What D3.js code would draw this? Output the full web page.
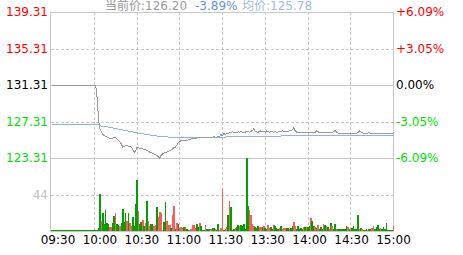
<!DOCTYPE html>
<html><head><meta charset="utf-8">
<script src="https://cdn.jsdelivr.net/npm/d3@7/dist/d3.min.js"></script>
<style>html,body{margin:0;padding:0;background:#fff;}svg{display:block;}</style>
</head><body>
<svg id="c" width="463" height="255"></svg>
<script>
const prevClose = 131.31;
const timeLabels = ["09:30","10:00","10:30","11:00","11:30","13:30","14:00","14:30","15:00"];
const priceTicks = [139.31,135.31,131.31,127.31,123.31];
const pctLabels = ["+6.09%","+3.05%","0.00%","-3.05%","-6.09%"];
const volTick = 44;
const volMax = 88;
const header = {cur:"当前价:126.20", chg:"-3.89%", avg:"均价:125.78"};

const price = [
131.31,131.31,131.31,131.31,131.31,131.31,131.31,131.31,131.31,131.31,
131.31,131.31,131.31,131.31,131.31,131.31,131.31,131.31,131.31,131.31,
131.31,131.31,131.31,131.31,131.31,131.31,131.31,131.31,131.31,131.31,
131.31,131.31,130.00,127.60,126.55,126.20,125.95,125.83,125.75,125.65,
125.60,125.47,125.50,125.56,125.65,125.60,125.47,125.30,125.10,124.90,
124.55,124.62,124.70,124.73,124.65,124.60,124.55,124.30,124.00,124.10,
124.55,124.50,124.40,124.37,124.37,124.30,124.25,124.19,124.10,124.00,
123.95,123.85,123.80,123.70,123.64,123.50,123.35,123.70,123.82,123.90,
124.00,124.00,124.10,124.19,124.25,124.37,124.50,124.55,124.80,125.10,
125.15,125.28,125.25,125.28,125.30,125.28,125.35,125.40,125.45,125.47,
125.50,125.47,125.55,125.60,125.65,125.60,125.65,125.62,125.65,125.60,
125.65,125.65,125.60,125.65,125.70,125.65,125.65,125.72,125.75,125.95,
125.80,126.05,125.90,126.10,126.00,126.19,126.20,126.22,126.20,126.18,
126.20,126.22,126.20,126.25,126.20,126.18,126.20,126.30,126.22,126.20,
126.25,126.40,126.56,126.30,126.22,126.20,126.25,126.35,126.22,126.30,
126.20,126.35,126.22,126.20,126.30,126.22,126.20,126.25,126.20,126.22,
126.30,126.25,126.35,126.25,126.30,126.22,126.25,126.35,126.37,126.45,
126.67,126.35,126.20,126.15,126.13,126.15,126.13,126.13,126.15,126.13,
126.13,126.15,126.13,126.13,126.15,126.13,126.35,126.25,126.15,126.13,
126.10,126.13,126.20,126.13,126.10,126.13,126.13,126.15,126.25,126.40,
126.20,126.10,126.05,126.00,126.02,126.00,126.00,126.02,126.00,126.00,
126.02,126.00,126.02,126.00,126.05,126.15,126.33,126.25,126.15,126.08,
126.08,126.10,126.08,126.15,126.08,126.05,126.08,126.02,126.00,126.00,
126.02,126.00,126.00,126.02,126.00,126.00,126.02,126.00,126.00,126.02,
126.20];

const avgPrice = [
127.00,127.00,127.00,127.00,127.00,127.00,127.00,127.00,127.00,127.00,
127.00,127.00,127.00,127.00,127.00,127.00,127.00,127.00,127.00,127.00,
127.00,127.00,127.00,127.00,127.00,127.00,127.00,127.00,127.00,127.00,
127.00,127.00,127.00,127.00,126.90,126.85,126.84,126.82,126.80,126.78,
126.75,126.72,126.70,126.66,126.62,126.59,126.56,126.53,126.50,126.47,
126.44,126.41,126.38,126.35,126.32,126.29,126.25,126.22,126.19,126.16,
126.13,126.10,126.07,126.05,126.02,125.99,125.97,125.94,125.91,125.89,
125.86,125.84,125.81,125.79,125.77,125.74,125.72,125.71,125.70,125.69,
125.68,125.67,125.66,125.65,125.64,125.63,125.62,125.62,125.62,125.62,
125.62,125.62,125.62,125.62,125.62,125.62,125.62,125.62,125.62,125.62,
125.62,125.62,125.62,125.62,125.62,125.62,125.62,125.62,125.62,125.62,
125.62,125.62,125.62,125.62,125.62,125.62,125.62,125.62,125.62,125.62,
125.62,125.62,125.62,125.70,125.70,125.70,125.70,125.70,125.70,125.70,
125.70,125.70,125.70,125.70,125.70,125.70,125.70,125.70,125.70,125.70,
125.70,125.70,125.70,125.70,125.70,125.70,125.70,125.70,125.70,125.70,
125.70,125.70,125.70,125.70,125.70,125.70,125.70,125.70,125.70,125.70,
125.70,125.78,125.78,125.78,125.78,125.78,125.78,125.78,125.78,125.78,
125.78,125.78,125.78,125.78,125.78,125.78,125.78,125.78,125.78,125.78,
125.78,125.78,125.78,125.78,125.78,125.78,125.78,125.78,125.78,125.78,
125.78,125.78,125.78,125.78,125.78,125.78,125.78,125.78,125.78,125.78,
125.78,125.78,125.78,125.78,125.78,125.78,125.78,125.78,125.78,125.78,
125.78,125.78,125.78,125.78,125.78,125.78,125.78,125.78,125.78,125.78,
125.78,125.78,125.78,125.78,125.78,125.78,125.78,125.78,125.78,125.78,
125.78,125.78,125.78,125.78,125.78,125.78,125.78,125.78,125.78,125.78,
125.78];

const volume = [
0,0,0,0,0,0,0,0,0,0,
0,0,0,0,0,0,0,0,0,0,
0,0,0,0,0,0,0,0,0,0,
0,0,0,3.6,44.6,12.4,21.7,8.4,25.7,9.6,
8.4,4.8,4.8,9.6,18.1,21.7,8.4,7.6,5.6,9.6,
26.9,10.8,21.7,12.4,21.7,9.6,5.6,17.3,5.6,32.5,
61.8,24.5,8.4,10.8,13.7,5.6,9.6,36.5,12.4,5.6,
8.4,8.4,5.6,7.6,28.5,17.3,22.9,21.7,1.6,10.8,
35,12.4,7.6,7.6,3.6,19.3,29.7,2.8,9.6,8.4,
3.6,4.8,3.6,4.8,4.8,2.8,1.6,1.6,2.8,7.6,
7.6,3.6,8.4,4.4,9.6,5.6,1.6,1.6,7.6,2.8,
2.8,2.8,2.8,3.6,3.6,2.8,1.6,8.4,1.6,3.6,
51,1.6,2.8,4.8,19.3,35.8,29.3,1.6,2.4,3.6,
4.4,7.6,5.6,7.6,5.6,8.4,2.8,88,30.5,25.7,
19.7,8.4,6.4,4.8,3.6,5.6,4.4,4.4,4.8,6.4,
3.6,2.4,7.6,3.6,4.8,2.8,7.6,5.6,3.6,2.8,
3.6,6.4,2.8,3.6,3.6,3.6,3.6,2.8,3.6,5.6,
10.8,5.6,2.8,6.4,2.8,3.6,2.8,4.4,4.4,4.8,
4.8,5.6,16,12.4,5.6,4.4,3.6,7.6,2.8,4.4,
2.8,8.4,6.8,5.6,4.4,2.8,9.6,6.0,2.8,8.4,
2.8,2.8,2.4,2.4,2.4,2.4,2.8,6.4,4.4,2.8,
2.4,3.6,5.6,2.4,2.8,18.9,2.4,3.6,2.8,0.4,
0.4,2.8,1.6,2.8,2.8,3.6,6.4,2.4,4.4,7.2,
2.4,3.6,2.4,4.8,2.8,9.2,1.6,0.4,0.4,0.4,
5.6];

const volUp = [
0,0,0,0,0,0,0,0,0,0,
0,0,0,0,0,0,0,0,0,0,
0,0,0,0,0,0,0,0,0,0,
0,0,0,0,0,1,0,0,0,0,
0,1,1,0,0,1,0,0,1,0,
0,0,0,1,0,1,1,0,0,0,
0,1,0,0,1,0,1,0,1,1,
0,0,1,1,0,1,1,1,1,0,
0,1,1,1,0,1,1,0,1,0,
1,1,1,0,1,0,0,1,1,1,
1,1,0,0,1,0,0,0,1,0,
0,0,1,0,0,1,0,0,1,1,
1,0,1,1,0,1,0,0,0,1,
0,0,1,0,0,0,0,0,0,1,
1,1,1,0,0,0,1,1,0,1,
0,0,1,1,0,0,1,0,0,0,
1,0,1,1,1,0,0,1,0,0,
1,1,0,0,0,0,0,1,0,1,
0,0,1,0,0,1,0,1,0,0,
0,1,0,1,0,1,0,1,0,0,
1,0,0,0,0,0,0,0,1,0,
1,0,0,0,0,0,1,0,1,0,
0,0,1,0,0,1,1,0,0,0,
0,1,0,0,0,0,0,0,0,0,
1];

const svg = d3.select("#c");
const L = 51, R = 393, T = 12, M = 158, B = 231;
const FONT = "'DejaVu Sans','Noto Sans CJK SC',sans-serif";
const gridC = "#c8c8c8";
const RED = "#ff0000", GREEN = "#00e000", VRED = "#ff5a5a", VGREEN = "#00a000";

const x = d3.scaleLinear().domain([0, 240]).range([L, R]);
const yP = d3.scaleLinear().domain([123.31, 139.31]).range([M, T]);
const yV = d3.scaleLinear().domain([0, volMax]).range([B, M]);
const xLab = d3.scalePoint().domain(timeLabels).range([58, 393.5]);

const g = svg.append("g");

// vertical dashed grid
const vMin = [30,60,90,120,150,180,210];
g.selectAll("line.v").data(vMin).enter().append("line")
  .attr("x1", d => Math.round(x(d)) + 0.5).attr("x2", d => Math.round(x(d)) + 0.5)
  .attr("y1", T).attr("y2", B)
  .attr("stroke", gridC).attr("stroke-dasharray", "3,2");

// horizontal grid
priceTicks.forEach((p, i) => {
  const yy = Math.round(yP(p)) + 0.5;
  const solid = (i === 2 || i === 4 || i === 0);
  g.append("line").attr("x1", L).attr("x2", R).attr("y1", yy).attr("y2", yy)
    .attr("stroke", gridC).attr("stroke-dasharray", solid ? null : "3,2");
});
{
  const yy = Math.round(yV(volTick)) + 0.5;
  g.append("line").attr("x1", L).attr("x2", R).attr("y1", yy).attr("y2", yy)
    .attr("stroke", gridC).attr("stroke-dasharray", "3,2");
}
// border
g.append("rect").attr("x", L - 0.5).attr("y", T + 0.5).attr("width", R - L + 1).attr("height", B - T)
  .attr("fill", "none").attr("stroke", gridC);

// volume bars
g.selectAll("rect.vol").data(volume).enter().append("rect")
  .attr("x", (d, i) => x(i) - 0.3)
  .attr("width", 1.6)
  .attr("y", d => Math.min(yV(d), B - 1))
  .attr("height", d => Math.max(B - yV(d), 1))
  .attr("fill", (d, i) => volUp[i] ? VRED : VGREEN)
  .attr("shape-rendering", "crispEdges");

// price line & average line
const line = d3.line().x((d, i) => x(i) + 0.5);
g.append("path").datum(avgPrice)
  .attr("d", line.y(d => yP(d) + 0.5))
  .attr("fill", "none").attr("stroke", "#8fb1f0").attr("stroke-width", 1)
  .attr("shape-rendering", "crispEdges");
g.append("path").datum(price)
  .attr("d", line.y(d => yP(d) + 0.5))
  .attr("fill", "none").attr("stroke", "#9a9a9a").attr("stroke-width", 1)
  .attr("shape-rendering", "crispEdges");

// left and right labels
const colorFor = p => p > prevClose + 1e-9 ? RED : (p < prevClose - 1e-9 ? GREEN : "#000");
priceTicks.forEach((p, i) => {
  g.append("text").attr("x", 48).attr("y", yP(p)).attr("dy", "0.36em")
    .attr("text-anchor", "end").attr("font-family", FONT).attr("font-size", 12)
    .attr("fill", colorFor(p)).text(p.toFixed(2));
  g.append("text").attr("x", 396).attr("y", yP(p)).attr("dy", "0.36em")
    .attr("text-anchor", "start").attr("font-family", FONT).attr("font-size", 12)
    .attr("fill", colorFor(p)).text(pctLabels[i]);
});
g.append("text").attr("x", 48).attr("y", yV(volTick)).attr("dy", "0.36em")
  .attr("text-anchor", "end").attr("font-family", FONT).attr("font-size", 12)
  .attr("fill", "#c0c0c0").text(String(volTick));

// time labels
g.selectAll("text.t").data(timeLabels).enter().append("text")
  .attr("x", d => xLab(d)).attr("y", 244)
  .attr("text-anchor", "middle").attr("font-family", FONT).attr("font-size", 12)
  .attr("fill", "#000").text(d => d);

// header
const hy = 9.5;
g.append("text").attr("x", 105).attr("y", hy).attr("font-family", FONT).attr("font-size", 12)
  .attr("fill", "#999").text(header.cur);
g.append("text").attr("x", 195).attr("y", hy).attr("font-family", FONT).attr("font-size", 12)
  .attr("fill", "#6690e8").text(header.chg);
g.append("text").attr("x", 242).attr("y", hy).attr("font-family", FONT).attr("font-size", 12)
  .attr("fill", "#a0b8f0").text(header.avg);
</script>
</body></html>
